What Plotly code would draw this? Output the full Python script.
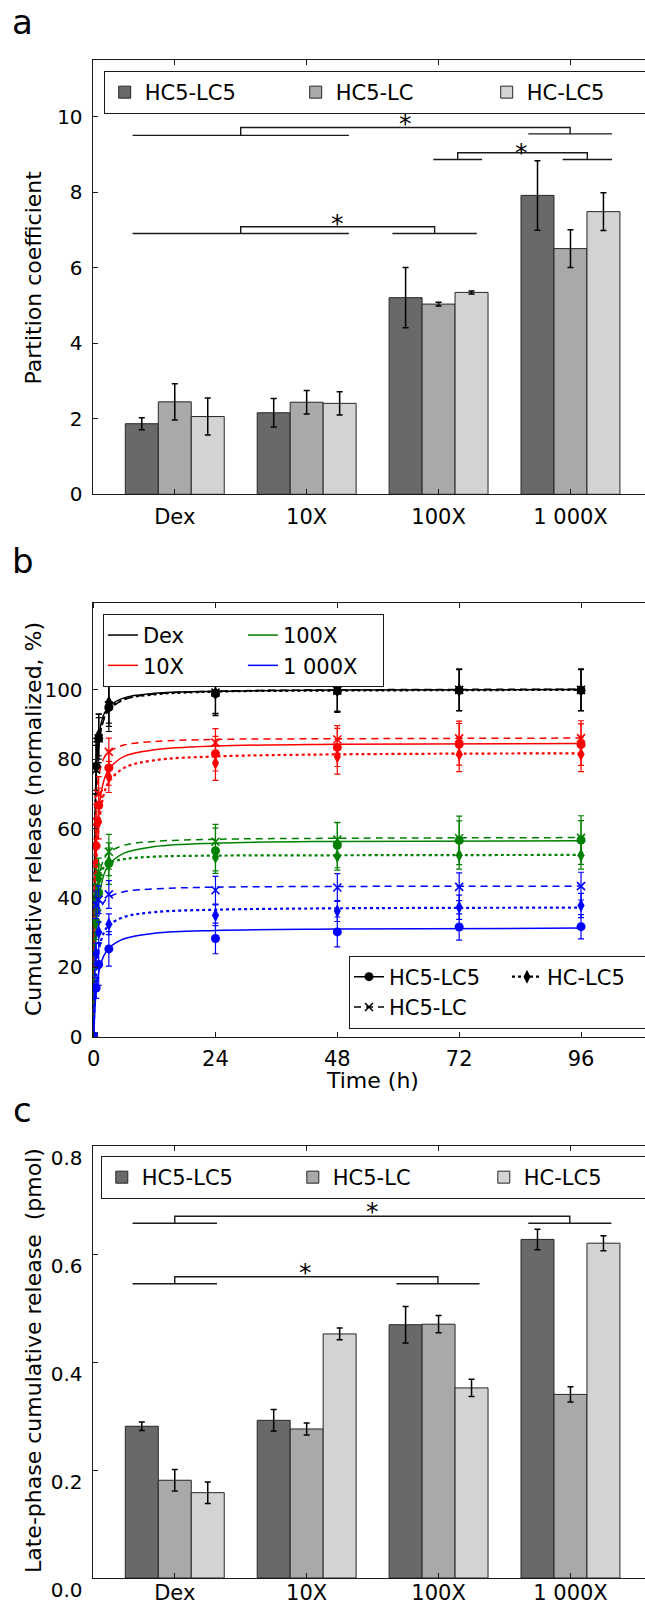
import plotly.graph_objects as go

W, H = 645, 1605
FONT = "DejaVu Sans"

# ---------------- shared categories / series ----------------
CATEGORIES = ["Dex", "10X", "100X", "1 000X"]
FORMULATIONS = ["HC5-LC5", "HC5-LC", "HC-LC5"]
BAR_COLORS = ["#696969", "#a9a9a9", "#d3d3d3"]

# ---------------- panel a : partition coefficient ----------------
PC_HC5_LC5 = [1.87, 2.16, 5.21, 7.92]
PC_HC5_LC = [2.45, 2.44, 5.04, 6.51]
PC_HC_LC5 = [2.06, 2.41, 5.35, 7.49]
PC_ERR_HC5_LC5 = [0.16, 0.38, 0.80, 0.92]
PC_ERR_HC5_LC = [0.48, 0.31, 0.05, 0.50]
PC_ERR_HC_LC5 = [0.49, 0.31, 0.04, 0.50]

# significance brackets, panel a (x in category units, y in data units)
SIG_A_LEFT = [(-0.32, 1.32), (1.96, 2.33), (-0.32, 1.32)]
SIG_A_RIGHT = [(2.68, 3.315), (2.94, 3.315), (1.65, 2.29)]
SIG_A_LOW = [(9.51, 9.55), (8.87, 8.87), (6.91, 6.91)]
SIG_A_TOP = [9.72, 9.05, 7.09]
SIG_A_STAR = [(1.75, 9.96), (2.63, 9.20), (1.23, 7.31)]

# ---------------- panel b : cumulative release ----------------
TIME_H = [0, 0.5, 1, 3, 24, 48, 72, 96]
DRUGS = ["Dex", "10X", "100X", "1 000X"]
DRUG_COLORS = ["#000000", "#ff0000", "#008000", "#0000ff"]

REL_DEX_HC5LC5 = [0, 78.0, 86.0, 95.0, 98.9, 99.7, 99.9, 99.9]
REL_DEX_HC5LC = [0, 77.0, 86.0, 95.5, 99.2, 99.8, 100.0, 100.0]
REL_DEX_HCLC5 = [0, 78.0, 87.0, 96.4, 99.1, 99.8, 100.0, 100.0]
ERR_DEX_HC5LC5 = [0, 8.0, 7.0, 7.0, 6.3, 6.2, 5.9, 5.9]
ERR_DEX_HC5LC = [0, 7.0, 6.0, 6.0, 6.0, 6.0, 6.0, 6.0]
ERR_DEX_HCLC5 = [0, 7.0, 6.0, 6.0, 6.0, 6.0, 6.0, 6.0]

REL_10X_HC5LC5 = [0, 55.0, 66.7, 77.5, 81.6, 83.4, 84.3, 84.2]
REL_10X_HC5LC = [0, 62.0, 70.0, 82.1, 84.8, 85.7, 86.0, 86.1]
REL_10X_HCLC5 = [0, 50.0, 62.0, 74.9, 78.9, 80.7, 81.4, 81.4]
ERR_10X_HC5LC5 = [0, 6.0, 5.0, 5.0, 5.0, 5.5, 6.0, 6.0]
ERR_10X_HC5LC = [0, 5.0, 5.0, 4.0, 4.0, 4.0, 5.0, 5.0]
ERR_10X_HCLC5 = [0, 5.0, 5.0, 4.5, 5.0, 5.0, 5.0, 5.0]

REL_100X_HC5LC5 = [0, 33.0, 41.5, 49.9, 53.6, 55.2, 56.6, 56.7]
REL_100X_HC5LC = [0, 40.0, 47.5, 53.3, 56.2, 56.8, 57.2, 57.3]
REL_100X_HCLC5 = [0, 40.0, 45.5, 50.4, 51.8, 52.0, 52.3, 52.3]
ERR_100X_HC5LC5 = [0, 5.0, 5.0, 6.0, 6.5, 6.5, 7.0, 7.0]
ERR_100X_HC5LC = [0, 4.0, 4.0, 5.0, 5.0, 5.0, 5.0, 5.0]
ERR_100X_HCLC5 = [0, 4.0, 4.0, 4.0, 4.0, 4.0, 4.0, 4.0]

REL_1000X_HC5LC5 = [0, 14.0, 20.8, 25.3, 28.3, 30.2, 31.6, 31.7]
REL_1000X_HC5LC = [0, 38.0, 39.5, 41.0, 42.2, 43.0, 43.2, 43.4]
REL_1000X_HCLC5 = [0, 24.0, 30.1, 32.4, 35.0, 36.2, 37.3, 37.8]
ERR_1000X_HC5LC5 = [0, 3.0, 6.0, 5.0, 4.4, 4.3, 3.8, 3.5]
ERR_1000X_HC5LC = [0, 4.0, 4.0, 4.0, 4.0, 4.0, 4.0, 4.0]
ERR_1000X_HCLC5 = [0, 3.0, 3.0, 3.0, 3.0, 3.0, 3.5, 3.5]

# fitted release curves
FIT_TIME_H = [0, 0.5, 1, 2, 3, 6, 12, 24, 48, 96]
FIT_DEX_HC5LC5 = [0, 76.0, 86.5, 92.9, 95.2, 97.7, 99.0, 99.6, 99.97, 100.1]
FIT_DEX_HC5LC = [0, 71.7, 83.7, 91.3, 94.1, 97.2, 98.8, 99.6, 100.0, 100.2]
FIT_DEX_HCLC5 = [0, 73.7, 84.9, 91.9, 94.5, 97.3, 98.7, 99.5, 99.8, 100.0]
FIT_10X_HC5LC5 = [0, 53.0, 65.2, 73.7, 77.1, 80.8, 82.7, 83.8, 84.3, 84.5]
FIT_10X_HC5LC = [0, 66.3, 75.0, 80.2, 82.1, 84.1, 85.1, 85.7, 85.9, 86.1]
FIT_10X_HCLC5 = [0, 48.2, 60.7, 69.8, 73.4, 77.5, 79.7, 80.8, 81.4, 81.7]
FIT_100X_HC5LC5 = [0, 30.2, 39.4, 46.6, 49.5, 52.9, 54.8, 55.8, 56.3, 56.5]
FIT_100X_HC5LC = [0, 38.3, 46.0, 51.1, 53.1, 55.2, 56.3, 56.9, 57.2, 57.4]
FIT_100X_HCLC5 = [0, 40.4, 45.7, 48.8, 50.0, 51.2, 51.9, 52.2, 52.3, 52.4]
FIT_1000X_HC5LC5 = [0, 13.1, 18.5, 23.3, 25.5, 28.2, 29.8, 30.6, 31.0, 31.3]
FIT_1000X_HC5LC = [0, 29.0, 34.8, 38.7, 40.2, 41.8, 42.6, 43.1, 43.3, 43.4]
FIT_1000X_HCLC5 = [0, 18.7, 24.9, 29.9, 32.1, 34.5, 35.9, 36.6, 37.0, 37.2]

# ---------------- panel c : late-phase release ----------------
LATE_HC5_LC5 = [0.281, 0.292, 0.469, 0.627]
LATE_HC5_LC = [0.181, 0.276, 0.470, 0.340]
LATE_HC_LC5 = [0.158, 0.452, 0.352, 0.620]
LATE_ERR_HC5_LC5 = [0.008, 0.020, 0.034, 0.019]
LATE_ERR_HC5_LC = [0.020, 0.011, 0.016, 0.014]
LATE_ERR_HC_LC5 = [0.020, 0.011, 0.016, 0.014]

SIG_C_LEFT = [(-0.32, 0.32), (-0.32, 0.32)]
SIG_C_RIGHT = [(2.68, 3.31), (1.68, 2.31)]
SIG_C_LOW = [(0.657, 0.657), (0.545, 0.545)]
SIG_C_TOP = [0.670, 0.558]
SIG_C_STAR = [(1.50, 0.688), (0.99, 0.575)]

# ==================================================================
X_POS = list(range(len(CATEGORIES)))


def px_x(v):
    return v / W


def px_y(v):
    return 1 - v / H


fig = go.Figure()


def add_bars(means, errs, xa, ya, legend_name):
    for name, vals, err, col in zip(FORMULATIONS, means, errs, BAR_COLORS):
        fig.add_trace(go.Bar(
            x=X_POS, y=vals, name=name,
            marker=dict(color=col, line=dict(color="#262626", width=1)),
            error_y=dict(type="data", array=err, color="black", thickness=1.5, width=3),
            xaxis=xa, yaxis=ya, legend=legend_name,
        ))


add_bars([PC_HC5_LC5, PC_HC5_LC, PC_HC_LC5],
         [PC_ERR_HC5_LC5, PC_ERR_HC5_LC, PC_ERR_HC_LC5], "x", "y", "legend")
add_bars([LATE_HC5_LC5, LATE_HC5_LC, LATE_HC_LC5],
         [LATE_ERR_HC5_LC5, LATE_ERR_HC5_LC, LATE_ERR_HC_LC5], "x3", "y3", "legend3")

FITS = {
    "Dex": [FIT_DEX_HC5LC5, FIT_DEX_HC5LC, FIT_DEX_HCLC5],
    "10X": [FIT_10X_HC5LC5, FIT_10X_HC5LC, FIT_10X_HCLC5],
    "100X": [FIT_100X_HC5LC5, FIT_100X_HC5LC, FIT_100X_HCLC5],
    "1 000X": [FIT_1000X_HC5LC5, FIT_1000X_HC5LC, FIT_1000X_HCLC5],
}
RELS = {
    "Dex": [REL_DEX_HC5LC5, REL_DEX_HC5LC, REL_DEX_HCLC5],
    "10X": [REL_10X_HC5LC5, REL_10X_HC5LC, REL_10X_HCLC5],
    "100X": [REL_100X_HC5LC5, REL_100X_HC5LC, REL_100X_HCLC5],
    "1 000X": [REL_1000X_HC5LC5, REL_1000X_HC5LC, REL_1000X_HCLC5],
}
ERRS = {
    "Dex": [ERR_DEX_HC5LC5, ERR_DEX_HC5LC, ERR_DEX_HCLC5],
    "10X": [ERR_10X_HC5LC5, ERR_10X_HC5LC, ERR_10X_HCLC5],
    "100X": [ERR_100X_HC5LC5, ERR_100X_HC5LC, ERR_100X_HCLC5],
    "1 000X": [ERR_1000X_HC5LC5, ERR_1000X_HC5LC, ERR_1000X_HCLC5],
}
LINE_DASH = ["solid", "7px,5px", "dot"]
LINE_WIDTH = [1.5, 1.5, 2.2]
MARKERS = [
    dict(symbol="circle", size=9),
    dict(symbol="x-thin", size=8),
    dict(symbol="diamond-tall", size=10),
]
DRUG_LEGEND_COLUMN = {"Dex": "c1", "10X": "c1", "100X": "c2", "1 000X": "c2"}

for drug, col in zip(DRUGS, DRUG_COLORS):
    for i in range(3):
        fig.add_trace(go.Scatter(
            x=FIT_TIME_H, y=FITS[drug][i], mode="lines",
            line=dict(color=col, width=LINE_WIDTH[i], dash=LINE_DASH[i], shape="spline"),
            name=drug, showlegend=(i == 0), legend="legend2",
            legendgroup="drug_" + DRUG_LEGEND_COLUMN[drug],
            xaxis="x2", yaxis="y2", hoverinfo="skip",
        ))

for drug, col in zip(DRUGS, DRUG_COLORS):
    for i in range(3):
        mk = dict(MARKERS[i])
        mk["color"] = col
        mk["line"] = dict(color=col, width=1.6 if mk["symbol"] == "x-thin" else 0)
        fig.add_trace(go.Scatter(
            x=TIME_H, y=RELS[drug][i], mode="markers", marker=mk,
            error_y=dict(type="data", array=ERRS[drug][i], color=col, thickness=1.2, width=3),
            showlegend=False, xaxis="x2", yaxis="y2", name=drug + " " + FORMULATIONS[i],
        ))

STYLE_LEGEND_COLUMN = ["s1", "s1", "s2"]
for i in [0, 1, 2]:
    mk = dict(MARKERS[i])
    mk["color"] = "black"
    mk["line"] = dict(color="black", width=1.6 if mk["symbol"] == "x-thin" else 0)
    fig.add_trace(go.Scatter(
        x=[None], y=[None], mode="lines+markers", name=FORMULATIONS[i],
        line=dict(color="black", width=LINE_WIDTH[i], dash=LINE_DASH[i]),
        marker=mk, legend="legend4", legendgroup="style_" + STYLE_LEGEND_COLUMN[i],
        xaxis="x2", yaxis="y2",
    ))

shapes = []
annotations = []


def add_brackets(lefts, rights, lows, tops, stars, xref, yref):
    for (l0, l1), (r0, r1), (yl, yr), yt, (sx, sy) in zip(lefts, rights, lows, tops, stars):
        lc, rc = (l0 + l1) / 2, (r0 + r1) / 2
        ln = dict(color="#1a1a1a", width=1.4)
        shapes.append(dict(type="line", xref=xref, yref=yref, x0=l0, x1=l1, y0=yl, y1=yl, line=ln))
        shapes.append(dict(type="line", xref=xref, yref=yref, x0=r0, x1=r1, y0=yr, y1=yr, line=ln))
        shapes.append(dict(type="path", xref=xref, yref=yref,
                           path=f"M {lc},{yl} L {lc},{yt} L {rc},{yt} L {rc},{yr}", line=ln))
        annotations.append(dict(text="*", x=sx, y=sy, xref=xref, yref=yref, showarrow=False,
                                yshift=-5, font=dict(size=25, family=FONT, color="black")))


add_brackets(SIG_A_LEFT, SIG_A_RIGHT, SIG_A_LOW, SIG_A_TOP, SIG_A_STAR, "x", "y")
add_brackets(SIG_C_LEFT, SIG_C_RIGHT, SIG_C_LOW, SIG_C_TOP, SIG_C_STAR, "x3", "y3")

for letter, cy in [("a", 22.5), ("b", 561), ("c", 1110)]:
    annotations.append(dict(text=letter, x=px_x(22.6), y=px_y(cy), xref="paper", yref="paper",
                            showarrow=False, xanchor="center", yanchor="middle",
                            font=dict(size=34, family=FONT, color="black")))

for title, cy in [("Partition coefficient", 277.5),
                  ("Cumulative release (normalized, %)", 819),
                  ("Late-phase cumulative release\u00a0 (pmol)", 1361)]:
    annotations.append(dict(text=title, x=px_x(33), y=px_y(cy), xref="paper", yref="paper",
                            showarrow=False, textangle=-90, xanchor="center", yanchor="middle",
                            font=dict(size=22, family=FONT, color="black")))
annotations.append(dict(text="Time (h)", x=px_x(372), y=px_y(1080), xref="paper", yref="paper",
                        showarrow=False, xanchor="center", yanchor="middle",
                        font=dict(size=22, family=FONT, color="black")))

X_DOMAIN = [px_x(92.6), 1.0]
XTICKFONT = dict(size=21, family=FONT, color="black")
YTICKFONT = dict(size=20, family=FONT, color="black")
common_x = dict(showline=True, linecolor="#1a1a1a", linewidth=1, mirror="ticks",
                ticks="inside", ticklen=5, tickcolor="#1a1a1a", showgrid=False,
                zeroline=False, tickfont=XTICKFONT, ticklabelstandoff=3, domain=X_DOMAIN,
                automargin=False)
common_y = dict(showline=True, linecolor="#1a1a1a", linewidth=1, mirror=False,
                ticks="inside", ticklen=5, tickcolor="#1a1a1a", showgrid=False,
                zeroline=False, tickfont=YTICKFONT, ticklabelstandoff=5, automargin=False)

legend_common = dict(orientation="h", xanchor="left", yanchor="top", bgcolor="white",
                     bordercolor="#1a1a1a", borderwidth=1,
                     font=dict(size=21, family=FONT, color="black"))

fig.update_layout(
    template="none",
    width=W, height=H,
    margin=dict(l=0, r=0, t=0, b=0, pad=0, autoexpand=False),
    paper_bgcolor="white", plot_bgcolor="white",
    font=dict(family=FONT, color="black"),
    barmode="group", bargap=0.25, bargroupgap=0,
    xaxis=dict(common_x, anchor="y", range=[-0.623, 3.565], tickvals=X_POS, ticktext=CATEGORIES),
    yaxis=dict(common_y, anchor="x", domain=[px_y(494.3), px_y(60.3)], range=[0, 11.5],
               tickvals=[0, 2, 4, 6, 8, 10]),
    xaxis2=dict(common_x, anchor="y2", range=[-0.2, 108.6], tickvals=[0, 24, 48, 72, 96]),
    yaxis2=dict(common_y, anchor="x2", domain=[px_y(1036.6), px_y(603.2)], range=[0, 125],
                tickvals=[0, 20, 40, 60, 80, 100]),
    xaxis3=dict(common_x, anchor="y3", range=[-0.623, 3.565], tickvals=X_POS, ticktext=CATEGORIES,
                ticklabelstandoff=-4),
    yaxis3=dict(common_y, anchor="x3", domain=[px_y(1578), px_y(1146)], range=[0, 0.8],
                tickvals=[0, 0.2, 0.4, 0.6, 0.8], ticktext=["0.0", "0.2", "0.4", "0.6", "0.8"],
                ticklabelshift=12),
    legend=dict(legend_common, x=px_x(103.7), y=px_y(71), entrywidth=146),
    legend3=dict(legend_common, x=px_x(100.8), y=px_y(1156), entrywidth=146),
    legend2=dict(legend_common, x=px_x(102.9), y=px_y(613.9), entrywidth=95,
                 traceorder="grouped", tracegroupgap=0),
    legend4=dict(legend_common, x=px_x(349), y=px_y(955.5), entrywidth=113,
                 traceorder="grouped", tracegroupgap=0),
    shapes=shapes,
    annotations=annotations,
)

fig.write_html(
    "out.html",
    config={"displayModeBar": False},
    post_script="document.body.style.margin='0';document.body.style.overflow='hidden';",
)
